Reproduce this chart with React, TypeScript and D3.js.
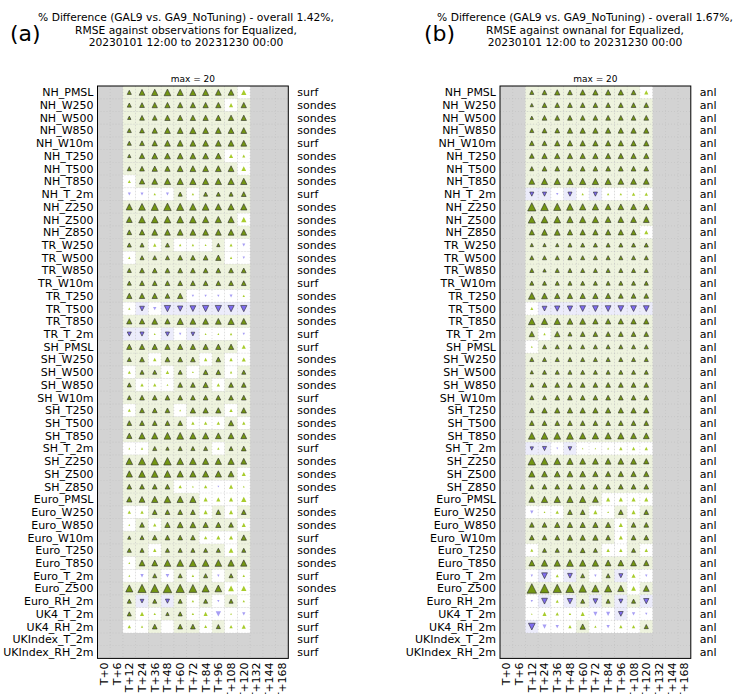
import React from "react";
import * as d3 from "d3";

// Forecast lead times (columns) and verification rows
const leadTimes = ["T+0", "T+6", "T+12", "T+24", "T+36", "T+48", "T+60", "T+72", "T+84", "T+96", "T+108", "T+120", "T+132", "T+144", "T+168"];
const scoredLeads = ["T+12", "T+24", "T+36", "T+48", "T+60", "T+72", "T+84", "T+96", "T+108", "T+120"];

const rowNames = [
  "NH_PMSL", "NH_W250", "NH_W500", "NH_W850", "NH_W10m", "NH_T250", "NH_T500", "NH_T850", "NH_T_2m", "NH_Z250", "NH_Z500", "NH_Z850",
  "TR_W250", "TR_W500", "TR_W850", "TR_W10m", "TR_T250", "TR_T500", "TR_T850", "TR_T_2m",
  "SH_PMSL", "SH_W250", "SH_W500", "SH_W850", "SH_W10m", "SH_T250", "SH_T500", "SH_T850", "SH_T_2m", "SH_Z250", "SH_Z500", "SH_Z850",
  "Euro_PMSL", "Euro_W250", "Euro_W850", "Euro_W10m", "Euro_T250", "Euro_T850", "Euro_T_2m", "Euro_Z500", "Euro_RH_2m",
  "UK4_T_2m", "UK4_RH_2m", "UKIndex_T_2m", "UKIndex_RH_2m",
];

const obsTypesA = [
  "surf", "sondes", "sondes", "sondes", "surf", "sondes", "sondes", "sondes", "surf", "sondes", "sondes", "sondes",
  "sondes", "sondes", "sondes", "surf", "sondes", "sondes", "sondes", "surf",
  "surf", "sondes", "sondes", "sondes", "surf", "sondes", "sondes", "sondes", "surf", "sondes", "sondes", "sondes",
  "surf", "sondes", "sondes", "surf", "sondes", "sondes", "surf", "sondes", "surf",
  "surf", "surf", "surf", "surf",
];
const obsTypesB = rowNames.map(() => "anl");

// % difference in RMSE (positive = improvement), one row per verification row, columns T+12..T+120
const pctDiffA: (number[] | null)[] = [
  [1.5, 3, 3.5, 4, 3.5, 3.5, 3.5, 3, 3, 2.5],
  [1.5, 2, 2.5, 2.5, 2.5, 2.5, 2.5, 2.5, 1.5, 2.5],
  [1, 2, 2, 2.5, 2.5, 2.5, 2.5, 2.5, 2.5, 2.5],
  [1.5, 2, 2.5, 3, 3, 3.5, 3, 3, 3, 3],
  [1.5, 2, 2.5, 3, 3, 3, 3, 3, 3, 3],
  [1, 2.5, 3, 3, 3, 3, 3, 3, 1.5, 0.8],
  [1.5, 2, 2.5, 2.5, 3, 3, 3, 3, 3, 2],
  [0.8, 2.5, 3, 3.5, 3.5, 3.5, 3.5, 3.5, 3.5, 3.5],
  [-0.8, -0.8, 0.5, -0.8, 1.5, 0.5, 1.5, 1.5, 1.5, 2],
  [3.5, 4, 4.5, 5, 4.5, 4, 4, 3.5, 3.5, 3.5],
  [3, 4, 4, 4, 4, 4, 3.5, 3.5, 3.5, 2.5],
  [2, 2.5, 3, 3, 3, 3, 3, 3, 3, 3],
  [1.5, 1.5, 1, 1.5, 0.5, 0.5, 0.3, 1, 0.8, -0.8],
  [0.5, 1.5, 1.5, 1.5, 2, 2, 2, 2.5, 0.5, -0.5],
  [1.5, 2, 2, 2, 2, 2, 2, 2, 2, 2],
  [1.5, 2, 2, 2, 2, 2, 2, 2, 2, 2],
  [2.5, 2.5, 2.5, 2, 2.5, -0.5, -0.5, -0.5, -0.8, 0.5],
  [0.5, -2, -1, -3.5, -2.5, -3, -3.5, -3.5, -3.5, -3.5],
  [2.5, 2.5, 3, 2.5, 3.5, 3, 3, 3, 3.5, 3],
  [-1.5, -1.5, 0.3, -1.5, -0.5, -1.2, 0.3, 0.3, 0.5, -0.5],
  [2.5, 2.5, 2.5, 2.5, 2.5, 2.5, 2.5, 2.5, 2.5, 1.5],
  [1.5, 2, 1, 2, 2, 2, 1, 2, 1, 1.5],
  [0.8, 1.5, 1.5, 1, 1.5, 0.3, 2, 2, 0.5, 1.5],
  [1.5, 1, 1, 0.3, 2, 2, 2.5, 1, 2, 2],
  [1.5, 2, 2, 2, 2, 2, 2, 2, 2, 2],
  [0.8, 2, 2, 2, 0.3, 2.5, 2.5, 2.5, 1, 2.5],
  [2, 2, 2, 2, 2, 1, 1, 1, 2.5, 1],
  [2.5, 3.5, 3.5, 4, 4, 3.5, 3.5, 3, 3, 3],
  [0.3, 0.5, 1.5, 1, 1.5, 1.5, 1.5, 0.5, 1.5, 2],
  [4, 4.5, 5, 5, 4, 4, 3.5, 3.5, 3.5, 3],
  [3.5, 4, 4, 4, 3.5, 3.5, 3.5, 3.5, 3, 1.5],
  [2, 2, 2, 2, 1, 0.3, 1, -0.3, 1.5, 0.3],
  [2.5, 3, 3.5, 4, 3.5, 3.5, 1.5, 1.5, 1.5, 2.5],
  [1, 1, 2, 2, 2, 2, 1.5, 2, 1.5, 2],
  [0.3, 2, 1, 2.5, 3, 3, 2.5, 2.5, 2, 1.5],
  [1, 1.5, 2, 2, 2, 2, 1, 1.5, 1.5, 2.5],
  [1.5, 1.5, 1, 1.5, 1.5, 1.5, 1.5, 1.5, 2, 1.5],
  [0.3, 3, 3, 4, 4, 4.5, 4, 4, 3.5, 3.5],
  [0.3, -1, 1.5, -1.2, 1.5, 0.5, 1.5, -0.5, 1.5, 0.5],
  [4.5, 6, 6, 6.5, 6, 5.5, 4.5, 4, 3, 2.5],
  [1.5, -1.2, 1.5, -1.5, 1.5, 0.5, 1.5, -0.5, 1.5, 0.5],
  [1.5, 1.5, 0.5, 1, 1.5, 0.5, 1.5, -2.5, 0.3, -1],
  [1, 0.5, 2, 0, 2, 2, 0.8, 1.5, 1, 1.5],
  null,
  null,
];

// 1 = statistically significant, 0 = not significant
const signifA: (number[] | null)[] = [
  [1, 1, 1, 1, 1, 1, 1, 1, 1, 0],
  [1, 1, 1, 1, 1, 1, 1, 1, 0, 1],
  [1, 1, 1, 1, 1, 1, 1, 1, 1, 1],
  [1, 1, 1, 1, 1, 1, 1, 1, 1, 1],
  [1, 1, 1, 1, 1, 1, 1, 1, 1, 1],
  [1, 1, 1, 1, 1, 1, 1, 1, 0, 0],
  [1, 1, 1, 1, 1, 1, 1, 1, 1, 0],
  [0, 1, 1, 1, 1, 1, 1, 1, 1, 1],
  [0, 0, 0, 0, 1, 0, 1, 1, 1, 1],
  [1, 1, 1, 1, 1, 1, 1, 1, 1, 1],
  [1, 1, 1, 1, 1, 1, 1, 1, 1, 0],
  [1, 1, 1, 1, 1, 1, 1, 1, 1, 1],
  [1, 1, 0, 1, 0, 0, 0, 1, 0, 0],
  [0, 1, 1, 1, 1, 1, 1, 1, 0, 0],
  [1, 1, 1, 1, 1, 1, 1, 1, 1, 1],
  [1, 1, 1, 1, 1, 1, 1, 1, 1, 1],
  [1, 1, 1, 1, 1, 0, 0, 0, 0, 0],
  [0, 1, 0, 1, 1, 1, 1, 1, 1, 1],
  [1, 1, 1, 1, 1, 1, 1, 1, 1, 1],
  [1, 1, 0, 1, 0, 1, 0, 0, 0, 0],
  [1, 1, 1, 1, 1, 1, 1, 1, 1, 0],
  [1, 1, 0, 1, 1, 1, 0, 1, 0, 0],
  [0, 1, 1, 0, 1, 0, 1, 1, 0, 1],
  [1, 0, 0, 0, 1, 1, 1, 0, 1, 1],
  [1, 1, 1, 1, 1, 1, 1, 1, 1, 1],
  [0, 1, 1, 1, 0, 1, 1, 1, 0, 1],
  [1, 1, 1, 1, 1, 0, 0, 0, 1, 0],
  [1, 1, 1, 1, 1, 1, 1, 1, 1, 1],
  [0, 0, 1, 1, 1, 1, 1, 0, 1, 1],
  [1, 1, 1, 1, 1, 1, 1, 1, 1, 1],
  [1, 1, 1, 1, 1, 1, 1, 1, 1, 0],
  [1, 1, 1, 1, 0, 0, 0, 0, 0, 0],
  [1, 1, 1, 1, 1, 1, 0, 0, 0, 0],
  [0, 0, 1, 1, 1, 1, 0, 1, 0, 1],
  [0, 1, 0, 1, 1, 1, 1, 1, 1, 0],
  [1, 1, 1, 1, 1, 1, 0, 0, 0, 1],
  [1, 1, 0, 1, 1, 1, 1, 1, 0, 1],
  [0, 1, 1, 1, 1, 1, 1, 1, 1, 1],
  [0, 0, 1, 0, 1, 0, 1, 0, 1, 0],
  [1, 1, 1, 1, 1, 1, 1, 1, 0, 0],
  [1, 1, 1, 1, 1, 0, 1, 0, 1, 0],
  [1, 0, 0, 1, 1, 0, 0, 0, 0, 0],
  [0, 0, 1, 0, 1, 1, 0, 1, 0, 0],
  null,
  null,
];

const pctDiffB: (number[] | null)[] = [
  [1.5, 2, 2.5, 2, 2.5, 2.5, 2.5, 2.5, 2, 1.5],
  [1, 2, 2, 2, 2, 2, 2, 2, 2, 2],
  [1, 2, 2, 2, 2, 2, 2, 2, 2, 2],
  [1.5, 2, 2, 2.5, 2.5, 2.5, 2.5, 2.5, 2.5, 2.5],
  [2, 2, 2.5, 2.5, 2.5, 2.5, 2.5, 2.5, 2.5, 2.5],
  [2, 2.5, 2.5, 2.5, 2.5, 2.5, 2.5, 2.5, 2.5, 2.5],
  [1.5, 2, 2, 2, 2, 2, 2, 2, 2, 2],
  [3, 3.5, 3.5, 3.5, 3.5, 3.5, 3.5, 3, 3, 3],
  [-1.5, -1.5, -0.5, -1.5, 0.5, -1.5, 0.5, 0.5, 1, 1],
  [6, 5, 4.5, 4, 3.5, 3.5, 3, 3, 3, 3],
  [4.5, 4, 4, 3.5, 3.5, 3.5, 3, 3, 3, 3],
  [2.5, 3, 3, 2.5, 2.5, 2.5, 2.5, 2.5, 2.5, 1.5],
  [1, 1, 1, 1.5, 1.5, 1.5, 1.5, 1.5, 1.5, 1.5],
  [1.5, 1.5, 1.5, 1.5, 1.5, 1.5, 1.5, 1.5, 1.5, 1.5],
  [1.5, 1, 1.5, 1.5, 1.5, 1.5, 1.5, 1.5, 1.5, 1.5],
  [1.5, 1.5, 1.5, 1.5, 1.5, 1.5, 1.5, 1.5, 1.5, 1.5],
  [4, 3, 2.5, 2.5, 2.5, 2.5, 2.5, 2, 2, 2],
  [0.8, -2, -2.5, -2.5, -3, -3, -3, -3, -3, -3],
  [4, 3.5, 3.5, 3, 3, 2.5, 2.5, 2.5, 2.5, 2.5],
  [2.5, 0.5, 2.5, 1.5, 2, 2, 2, 2, 2, 2],
  [0.3, 1.5, 1.5, 1.5, 1.5, 1.5, 1.5, 1.5, 1.5, 1.5],
  [1.5, 1.5, 1.5, 1.5, 1.5, 1.5, 1.5, 1.5, 1.5, 1.5],
  [1, 1.5, 1.5, 1.5, 1.5, 1.5, 1.5, 1.5, 1.5, 1.5],
  [1.5, 2, 2, 2, 2, 2, 2, 2, 2, 2],
  [1.5, 1.5, 2, 2, 2, 2, 2, 2, 2, 2],
  [2, 2.5, 2.5, 2.5, 2.5, 2.5, 2.5, 2.5, 2.5, 2.5],
  [2, 2, 2, 2, 2, 2, 2, 2, 2, 2],
  [4, 4, 4, 4, 3.5, 3.5, 3.5, 3.5, 3, 3],
  [-1, -1.5, -0.3, -1.2, 0.2, 0.2, 0.3, 1, 1, 1],
  [5, 4.5, 4, 3.5, 3, 3, 3, 3, 3, 2.5],
  [3.5, 3, 3, 3, 3, 2.5, 2.5, 2.5, 2.5, 2.5],
  [1.5, 2, 2, 2, 2, 2, 2, 2, 2, 2],
  [3, 3.5, 3.5, 3.5, 3.5, 3, 1.5, 1.5, 1.5, 1.5],
  [-1, 0.3, 1, 2, 2, 1.5, 0.3, 2, 1.5, 2],
  [2, 2, 2.5, 2.5, 2.5, 2.5, 2.5, 1.5, 2, 2],
  [2, 2, 2, 2.5, 2.5, 2.5, 2, 1.5, 2, 2],
  [0.8, 1.5, 1.5, 1.5, 2, 1.5, 1, 1, 1.5, 1],
  [3, 3.5, 3.5, 4, 3.5, 3.5, 3, 3, 3, 2.5],
  [-0.5, -3, 0.8, -2, 1.5, -0.5, 1.5, -1.5, 1.5, -0.5],
  [8, 7, 6, 6, 5, 4.5, 4.5, 3.5, 2, 3],
  [-0.5, -3, 0.8, -2.5, 1.5, -2, 1.5, -1.5, 1.5, -2.5],
  [0.2, 1.5, 1, 0.5, 1.5, -1.5, -1.5, -2, -1, -0.5],
  [-4, -1.5, -1, 1, 2.5, 0.5, -1, 1, 1, 1.5],
  null,
  null,
];

const signifB: (number[] | null)[] = [
  [1, 1, 1, 1, 1, 1, 1, 1, 1, 0],
  [1, 1, 1, 1, 1, 1, 1, 1, 1, 1],
  [1, 1, 1, 1, 1, 1, 1, 1, 1, 1],
  [1, 1, 1, 1, 1, 1, 1, 1, 1, 1],
  [1, 1, 1, 1, 1, 1, 1, 1, 1, 1],
  [1, 1, 1, 1, 1, 1, 1, 1, 1, 1],
  [1, 1, 1, 1, 1, 1, 1, 1, 1, 1],
  [1, 1, 1, 1, 1, 1, 1, 1, 1, 1],
  [1, 1, 0, 1, 0, 1, 0, 0, 0, 0],
  [1, 1, 1, 1, 1, 1, 1, 1, 1, 1],
  [1, 1, 1, 1, 1, 1, 1, 1, 1, 1],
  [1, 1, 1, 1, 1, 1, 1, 1, 1, 0],
  [1, 1, 1, 1, 1, 1, 1, 1, 1, 1],
  [1, 1, 1, 1, 1, 1, 1, 1, 1, 1],
  [1, 1, 1, 1, 1, 1, 1, 1, 1, 1],
  [1, 1, 1, 1, 1, 1, 1, 1, 1, 1],
  [1, 1, 1, 1, 1, 1, 1, 1, 1, 1],
  [0, 1, 1, 1, 1, 1, 1, 1, 1, 1],
  [1, 1, 1, 1, 1, 1, 1, 1, 1, 1],
  [1, 0, 1, 1, 1, 1, 1, 1, 1, 1],
  [0, 1, 1, 1, 1, 1, 1, 1, 1, 1],
  [1, 1, 1, 1, 1, 1, 1, 1, 1, 1],
  [1, 1, 1, 1, 1, 1, 1, 1, 1, 1],
  [1, 1, 1, 1, 1, 1, 1, 1, 1, 1],
  [1, 1, 1, 1, 1, 1, 1, 1, 1, 1],
  [1, 1, 1, 1, 1, 1, 1, 1, 1, 1],
  [1, 1, 1, 1, 1, 1, 1, 1, 1, 1],
  [1, 1, 1, 1, 1, 1, 1, 1, 1, 1],
  [1, 1, 0, 1, 0, 0, 0, 0, 0, 0],
  [1, 1, 1, 1, 1, 1, 1, 1, 1, 1],
  [1, 1, 1, 1, 1, 1, 1, 1, 1, 1],
  [1, 1, 1, 1, 1, 1, 1, 1, 1, 1],
  [1, 1, 1, 1, 1, 1, 0, 0, 0, 0],
  [0, 0, 0, 1, 1, 0, 0, 1, 0, 1],
  [1, 1, 1, 1, 1, 1, 1, 0, 1, 1],
  [1, 1, 1, 1, 1, 1, 1, 0, 1, 1],
  [0, 1, 1, 1, 1, 1, 0, 0, 1, 0],
  [1, 1, 1, 1, 1, 1, 1, 1, 1, 1],
  [0, 1, 0, 1, 1, 0, 1, 1, 0, 0],
  [1, 1, 1, 1, 1, 1, 1, 1, 0, 1],
  [0, 1, 0, 1, 1, 1, 1, 1, 1, 1],
  [0, 0, 0, 0, 0, 0, 0, 1, 0, 0],
  [1, 0, 0, 0, 1, 0, 0, 0, 0, 1],
  null,
  null,
];

const titleA = [
  "% Difference (GAL9 vs. GA9_NoTuning) - overall 1.42%,",
  "RMSE against observations for Equalized,",
  "20230101 12:00 to 20231230 00:00",
];
const titleB = [
  "% Difference (GAL9 vs. GA9_NoTuning) - overall 1.67%,",
  "RMSE against ownanal for Equalized,",
  "20230101 12:00 to 20231230 00:00",
];

const FONT = "DejaVu Sans, sans-serif";
const CELL = 12.72;
const TOP = 86;
const MAX_VAL = 20;

const C_BG = "#d3d3d3";
const C_POS_BG = "#eef3de";
const C_NEG_BG = "#ececfb";
const C_POS_SIG = "#739612";
const C_POS_NS = "#a8cc2c";
const C_NEG_SIG = "#7f6cf0";
const C_NEG_NS = "#a79ef4";

// triangle marker whose area grows linearly with |value|; width equals height
function trianglePath(side: number): string {
  const h = side / 2;
  const p = d3.path();
  p.moveTo(0, -h);
  p.lineTo(h, h);
  p.lineTo(-h, h);
  p.closePath();
  return p.toString();
}

type PanelProps = {
  letter: string;
  letterX: number;
  title: string[];
  x0: number;
  titleX: number;
  values: (number[] | null)[];
  signif: (number[] | null)[];
  obsTypes: string[];
};

function Panel({ letter, letterX, title, x0, titleX, values, signif, obsTypes }: PanelProps) {
  const x = d3.scaleBand<string>().domain(leadTimes).range([x0, x0 + leadTimes.length * CELL]);
  const y = d3.scaleBand<string>().domain(rowNames).range([TOP, TOP + rowNames.length * CELL]);
  const [xL, xR] = x.range();
  const [yT, yB] = y.range();
  // marker side from the value: area proportional to |value|
  const side = d3.scaleSqrt().domain([0, MAX_VAL]).range([0, 3.36 * Math.sqrt(MAX_VAL)]);

  const cells: React.ReactNode[] = [];
  const marks: React.ReactNode[] = [];
  rowNames.forEach((row, ri) => {
    const vals = values[ri];
    const sig = signif[ri];
    if (!vals || !sig) return;
    scoredLeads.forEach((lead, ci) => {
      const v = vals[ci];
      const s = sig[ci] === 1;
      const bx = x(lead)!;
      const by = y(row)!;
      const bg = s ? (v >= 0 ? C_POS_BG : C_NEG_BG) : "#ffffff";
      cells.push(<rect key={`c${ri}-${ci}`} x={bx} y={by} width={x.bandwidth()} height={y.bandwidth()} fill={bg} />);
      if (v === 0) return;
      const cx = bx + x.bandwidth() / 2;
      const cy = by + y.bandwidth() / 2;
      const fill = v > 0 ? (s ? C_POS_SIG : C_POS_NS) : (s ? C_NEG_SIG : C_NEG_NS);
      marks.push(
        <path
          key={`m${ri}-${ci}`}
          d={trianglePath(side(Math.abs(v)))}
          transform={`translate(${cx},${cy})${v < 0 ? " rotate(180)" : ""}`}
          fill={fill}
          stroke={s ? "#2b2b2b" : "none"}
          strokeWidth={0.6}
        />
      );
    });
  });

  const boxCx = (xL + xR) / 2;

  return (
    <g>
      <text x={letterX} y={41} fontSize={22} fontFamily={FONT} fill="#000">{letter}</text>
      {title.map((t, i) => (
        <text key={i} x={titleX} y={21 + i * 12.5} fontSize={10.7} fontFamily={FONT} textAnchor="middle" fill="#000">{t}</text>
      ))}
      <text x={boxCx} y={82} fontSize={9} fontFamily={FONT} textAnchor="middle" fill="#000">max = 20</text>
      <rect x={xL} y={yT} width={xR - xL} height={yB - yT} fill={C_BG} />
      {cells}
      {/* dotted cell grid */}
      {leadTimes.slice(1).map((lt) => (
        <line key={`gx${lt}`} x1={x(lt)!} x2={x(lt)!} y1={yT} y2={yB} stroke="#b8b8b8" strokeWidth={0.6} strokeDasharray="1,2" opacity={0.7} />
      ))}
      {rowNames.slice(1).map((r) => (
        <line key={`gy${r}`} x1={xL} x2={xR} y1={y(r)!} y2={y(r)!} stroke="#b8b8b8" strokeWidth={0.6} strokeDasharray="1,2" opacity={0.7} />
      ))}
      {marks}
      <rect x={xL} y={yT} width={xR - xL} height={yB - yT} fill="none" stroke="#000" strokeWidth={1} />
      {rowNames.map((r) => (
        <text key={`yl${r}`} x={xL - 4} y={y(r)! + y.bandwidth() / 2} dy="0.36em" fontSize={11} fontFamily={FONT} textAnchor="end" fill="#000">{r}</text>
      ))}
      {rowNames.map((r, i) => (
        <text key={`yr${r}`} x={xR + 9} y={y(r)! + y.bandwidth() / 2} dy="0.36em" fontSize={11} fontFamily={FONT} textAnchor="start" fill="#000">{obsTypes[i]}</text>
      ))}
      {leadTimes.map((lt) => {
        const cx = x(lt)! + x.bandwidth() / 2;
        return (
          <text key={`xl${lt}`} transform={`translate(${cx},${yB + 4}) rotate(-90)`} dy="0.36em" fontSize={11} fontFamily={FONT} textAnchor="end" fill="#000">{lt}</text>
        );
      })}
    </g>
  );
}

export default function App() {
  return (
    <svg width={734} height={694} style={{ position: "absolute", left: 0, top: 0, background: "#fff" }}>
      <rect width={734} height={694} fill="#fff" />
      <Panel letter="(a)" letterX={10} title={titleA} x0={97.5} titleX={186} values={pctDiffA} signif={signifA} obsTypes={obsTypesA} />
      <Panel letter="(b)" letterX={424} title={titleB} x0={500} titleX={585} values={pctDiffB} signif={signifB} obsTypes={obsTypesB} />
    </svg>
  );
}
